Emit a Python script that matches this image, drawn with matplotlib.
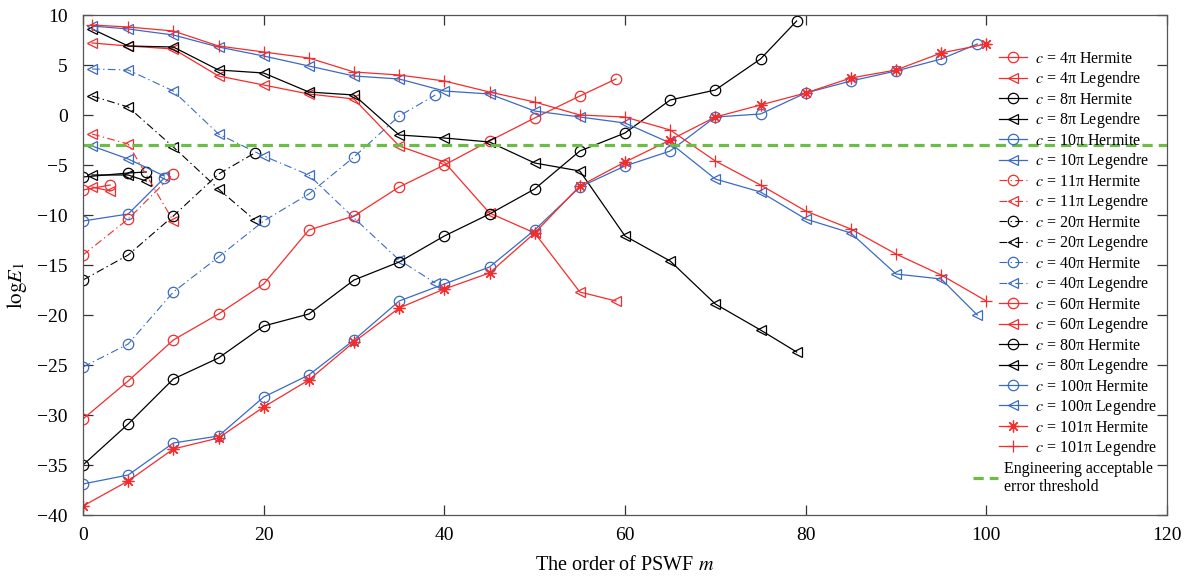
import matplotlib
matplotlib.use('Agg')
import matplotlib.pyplot as plt
from matplotlib.lines import Line2D

plt.rcParams['font.family'] = ['Liberation Serif', 'DejaVu Serif']
plt.rcParams['mathtext.fontset'] = 'stix'

# ---------------- data ----------------
c4_H_m = [0, 3]
c4_H = [-7.5, -7.0]
c4_L_m = [1, 3]
c4_L = [-7.2, -7.6]

c8_H_m = [0, 5, 7]
c8_H = [-6.2, -5.8, -5.7]
c8_L_m = [1, 5, 7]
c8_L = [-6.0, -6.0, -6.6]

c10_H_m = [0, 5, 9]
c10_H = [-10.6, -9.9, -6.3]
c10_L_m = [1, 5, 9]
c10_L = [-3.1, -4.4, -6.1]

c11_H_m = [0, 5, 10]
c11_H = [-14.0, -10.4, -5.9]
c11_L_m = [1, 5, 10]
c11_L = [-1.9, -2.9, -10.6]

c20_H_m = [0, 5, 10, 15, 19]
c20_H = [-16.5, -14.0, -10.1, -5.9, -3.8]
c20_L_m = [1, 5, 10, 15, 19]
c20_L = [1.9, 0.8, -3.2, -7.4, -10.5]

c40_H_m = [0, 5, 10, 15, 20, 25, 30, 35, 39]
c40_H = [-25.2, -22.9, -17.7, -14.2, -10.6, -7.9, -4.2, -0.1, 2.0]
c40_L_m = [1, 5, 10, 15, 20, 25, 30, 35, 39]
c40_L = [4.6, 4.5, 2.4, -1.9, -4.1, -6.0, -10.3, -14.5, -16.8]

c60_H_m = [0, 5, 10, 15, 20, 25, 30, 35, 40, 45, 50, 55, 59]
c60_H = [-30.4, -26.6, -22.5, -19.9, -16.9, -11.5, -10.1, -7.2, -5.0, -2.6, -0.3, 1.9, 3.6]
c60_L_m = [1, 5, 10, 15, 20, 25, 30, 35, 40, 45, 50, 55, 59]
c60_L = [7.2, 6.9, 6.6, 3.9, 3.0, 2.1, 1.6, -3.1, -4.7, -9.8, -11.8, -17.7, -18.6]

c80_H_m = [0, 5, 10, 15, 20, 25, 30, 35, 40, 45, 50, 55, 60, 65, 70, 75, 79]
c80_H = [-35.0, -30.9, -26.4, -24.3, -21.1, -19.9, -16.5, -14.7, -12.1, -9.9,
         -7.4, -3.6, -1.8, 1.5, 2.5, 5.6, 9.4]
c80_L_m = [1, 5, 10, 15, 20, 25, 30, 35, 40, 45, 50, 55, 60, 65, 70, 75, 79]
c80_L = [8.6, 6.9, 6.8, 4.5, 4.2, 2.3, 2.0, -2.0, -2.3, -2.7, -4.8, -5.6,
         -12.1, -14.6, -18.9, -21.5, -23.7]

c100_H_m = [0, 5, 10, 15, 20, 25, 30, 35, 40, 45, 50, 55, 60, 65, 70, 75, 80, 85, 90, 95, 99]
c100_H = [-36.9, -36.0, -32.8, -32.1, -28.2, -26.0, -22.5, -18.6, -16.9, -15.2,
          -11.5, -7.2, -5.1, -3.6, -0.2, 0.1, 2.2, 3.4, 4.4, 5.6, 7.1]
c100_L_m = [1, 5, 10, 15, 20, 25, 30, 35, 40, 45, 50, 55, 60, 65, 70, 75, 80, 85, 90, 95, 99]
c100_L = [8.9, 8.6, 8.0, 6.8, 5.9, 4.9, 3.9, 3.6, 2.4, 2.1, 0.4, -0.2, -0.8,
          -2.8, -6.4, -7.7, -10.4, -11.8, -15.9, -16.4, -20.0]

c101_H_m = [0, 5, 10, 15, 20, 25, 30, 35, 40, 45, 50, 55, 60, 65, 70, 75, 80, 85, 90, 95, 100]
c101_H = [-39.1, -36.6, -33.4, -32.3, -29.2, -26.5, -22.7, -19.3, -17.4, -15.8,
          -11.8, -7.1, -4.7, -2.5, -0.2, 1.0, 2.2, 3.7, 4.5, 6.2, 7.1]
c101_L_m = [1, 5, 10, 15, 20, 25, 30, 35, 40, 45, 50, 55, 60, 65, 70, 75, 80, 85, 90, 95, 100]
c101_L = [9.0, 8.8, 8.4, 6.9, 6.3, 5.7, 4.3, 4.0, 3.4, 2.3, 1.3, 0.0, -0.2,
          -1.5, -4.6, -7.0, -9.6, -11.4, -13.9, -16.0, -18.6]

threshold = -3.0
threshold_label = 'Engineering acceptable\nerror threshold'

x_ticks = [0, 20, 40, 60, 80, 100, 120]
y_ticks = [-40, -35, -30, -25, -20, -15, -10, -5, 0, 5, 10]

# ---------------- styles ----------------
RED = '#f62b2b'
BLUE = '#3a6bc3'
BLACK = '#000000'
GREEN = '#6cbd45'
DASHDOT = (0, (7, 3, 1.2, 3))
ASTER = (8, 2, 0)

series = [
    ('4', 'Hermite', c4_H_m, c4_H, RED, '-', 'o'),
    ('4', 'Legendre', c4_L_m, c4_L, RED, '-', '<'),
    ('8', 'Hermite', c8_H_m, c8_H, BLACK, '-', 'o'),
    ('8', 'Legendre', c8_L_m, c8_L, BLACK, '-', '<'),
    ('10', 'Hermite', c10_H_m, c10_H, BLUE, '-', 'o'),
    ('10', 'Legendre', c10_L_m, c10_L, BLUE, '-', '<'),
    ('11', 'Hermite', c11_H_m, c11_H, RED, DASHDOT, 'o'),
    ('11', 'Legendre', c11_L_m, c11_L, RED, DASHDOT, '<'),
    ('20', 'Hermite', c20_H_m, c20_H, BLACK, DASHDOT, 'o'),
    ('20', 'Legendre', c20_L_m, c20_L, BLACK, DASHDOT, '<'),
    ('40', 'Hermite', c40_H_m, c40_H, BLUE, DASHDOT, 'o'),
    ('40', 'Legendre', c40_L_m, c40_L, BLUE, DASHDOT, '<'),
    ('60', 'Hermite', c60_H_m, c60_H, RED, '-', 'o'),
    ('60', 'Legendre', c60_L_m, c60_L, RED, '-', '<'),
    ('80', 'Hermite', c80_H_m, c80_H, BLACK, '-', 'o'),
    ('80', 'Legendre', c80_L_m, c80_L, BLACK, '-', '<'),
    ('100', 'Hermite', c100_H_m, c100_H, BLUE, '-', 'o'),
    ('100', 'Legendre', c100_L_m, c100_L, BLUE, '-', '<'),
    ('101', 'Hermite', c101_H_m, c101_H, RED, '-', ASTER),
    ('101', 'Legendre', c101_L_m, c101_L, RED, '-', '+'),
]

W, H = 1189, 578
fig = plt.figure(figsize=(W / 100, H / 100), dpi=100)
L, R, T, B = 83, 1167, 15, 515
ax = fig.add_axes([L / W, 1 - B / H, (R - L) / W, (B - T) / H])

handles = []
for c, kind, m, v, col, ls, mk in series:
    lw = 0.9 if ls == '-' else 0.8
    ms = 7.5 if mk in ('o', '<') else 8.5
    h, = ax.plot(m, v, color=col, linestyle=ls, linewidth=lw, marker=mk,
                 markersize=ms, markerfacecolor='none', markeredgecolor=col,
                 markeredgewidth=0.9, label=f'$c$ = {c}π {kind}')
    handles.append(h)

gh = ax.axhline(threshold, color=GREEN, linewidth=2.3, linestyle=(0, (3.2, 1.9)),
                label=threshold_label)

ax.set_xlim(0, 120)
ax.set_ylim(-40, 10)
ax.set_xticks(x_ticks)
ax.set_yticks(y_ticks)
ax.set_yticklabels([str(t).replace('-', '\u2212') for t in y_ticks])
ax.tick_params(direction='in', top=True, right=True, length=7, width=0.9,
               labelsize=14, color='#333333')
ax.tick_params(axis='x', pad=9)
ax.tick_params(axis='y', pad=11)
for s in ax.spines.values():
    s.set_color('#555555')
    s.set_linewidth(0.9)

ax.set_xlabel('The order of PSWF $m$', fontsize=14.5, labelpad=8)
ax.set_ylabel(r'$\mathrm{log}E_1$', fontsize=15)
ax.yaxis.set_label_coords((29 - L) / (R - L), 0.46)

leg1 = ax.legend(handles=handles, loc='upper left',
                 bbox_to_anchor=((999 - L) / (R - L), 1 - (51 - T) / (B - T)),
                 frameon=False, fontsize=11.5, borderpad=0, borderaxespad=0,
                 handlelength=1.75, handletextpad=0.5, labelspacing=0.155)
ax.add_artist(leg1)
leg2 = ax.legend(handles=[gh], loc='upper left',
                 bbox_to_anchor=((973 - L) / (R - L), 1 - (461 - T) / (B - T)),
                 frameon=False, fontsize=11.5, borderpad=0, borderaxespad=0,
                 handlelength=1.55, handletextpad=0.4, labelspacing=0.1)
for t in leg2.get_texts():
    t.set_linespacing(1.15)

fig.savefig('out.png', dpi=100)
